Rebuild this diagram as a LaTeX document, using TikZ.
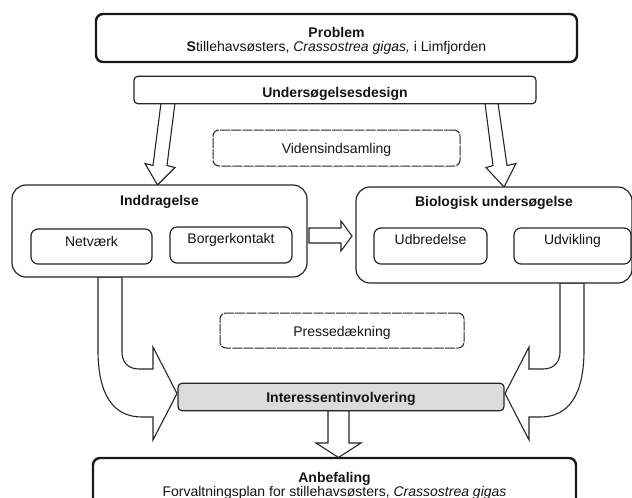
\documentclass[tikz,border=0pt]{standalone}
\usepackage{fontspec}
\setmainfont{Liberation Sans}
\begin{document}
\begin{tikzpicture}[x=1pt,y=-1pt,
  every node/.style={inner sep=0pt, text=black!92},
  txt/.style={anchor=base, font=\fontsize{14}{15}\selectfont},
  btxt/.style={anchor=base, font=\fontsize{14}{15}\selectfont\bfseries},
  thickbox/.style={draw=black!90, line width=2.4pt, rounded corners=7pt, fill=white},
  bigbox/.style={draw=black!85, line width=1.2pt, rounded corners=14pt, fill=white},
  smallbox/.style={draw=black!85, line width=1.2pt, rounded corners=7pt, fill=white},
  flatbox/.style={draw=black!85, line width=1.2pt, rounded corners=4pt, fill=white},
  dashbox/.style={draw=black!85, line width=1pt, rounded corners=6pt, dash pattern=on 10pt off 1.2pt},
  blockarrow/.style={draw=black!85, line width=1.1pt, fill=white, line join=miter},
]
\useasboundingbox (0,0) rectangle (632,498);

% ---------- block arrows (drawn first) ----------
% design -> inddragelse
\draw[blockarrow] (161,103) -- (175,103) -- (167,165.5) -- (175,167.5) -- (157.5,185) -- (145,163.5) -- (153,165.5) -- cycle;
% design -> biologisk
\draw[blockarrow] (485,103) -- (498,103) -- (507,165.5) -- (516,163.5) -- (504,187) -- (486,167.6) -- (493,165.5) -- cycle;
% inddragelse -> biologisk
\draw[blockarrow] (309,228) -- (341,228) -- (341,221) -- (352,236) -- (341,251) -- (341,243) -- (309,243) -- cycle;
% inddragelse -> interessent (curved)
\draw[blockarrow] (98,277) -- (98,350) .. controls (98,396) and (114,417) .. (142,417) -- (153,417) -- (153,440) -- (177,393.5) -- (153,347) -- (153,369) -- (139,369) .. controls (128,369) and (122,362) .. (122,352) -- (122,277) -- cycle;
% biologisk -> interessent (curved)
\draw[blockarrow] (584,283) -- (584,350) .. controls (584,396) and (568,417) .. (540,417) -- (529,417) -- (529,440) -- (505,393.5) -- (529,347) -- (529,369) -- (543,369) .. controls (554,369) and (560,362) .. (560,352) -- (560,283) -- cycle;
% interessent -> anbefaling
\draw[blockarrow] (328,410.5) -- (349,410.5) -- (349,443) -- (361,443) -- (338.5,457.5) -- (316,443) -- (328,443) -- cycle;

% ---------- boxes ----------
\node[thickbox, minimum width=481pt, minimum height=48pt] (problem) at (336.5,38) {};
\node[btxt] (problemt) at (336.5,37) {Problem};
\node[txt] (problems) at (336.5,51) {{\bfseries S}tillehavsøsters, \textit{Crassostrea gigas,} i Limfjorden};

\node[flatbox, minimum width=402pt, minimum height=27.5pt] (design) at (335,90) {};
\node[btxt] (designt) at (335,97) {Undersøgelsesdesign};

\node[dashbox, minimum width=247pt, minimum height=36pt] (viden) at (336.5,148) {};
\node[txt] (videnT) at (336.5,153) {Vidensindsamling};

\node[bigbox, minimum width=295pt, minimum height=92pt] (inddr) at (159.5,231) {};
\node[btxt] (inddrt) at (159.5,205) {Inddragelse};
\node[smallbox, minimum width=121pt, minimum height=35pt] (netv) at (91.5,246.5) {};
\node[txt] (netvt) at (91.5,246) {Netværk};
\node[smallbox, minimum width=122pt, minimum height=36pt] (borger) at (231,245) {};
\node[txt] (borgert) at (231,243) {Borgerkontakt};

\node[bigbox, minimum width=276pt, minimum height=96pt] (bio) at (494,235) {};
\node[btxt] (biot) at (494,206) {Biologisk undersøgelse};
\node[smallbox, minimum width=113pt, minimum height=36pt] (udbr) at (430.5,246) {};
\node[txt] (udbrt) at (430.5,244) {Udbredelse};
\node[smallbox, minimum width=117pt, minimum height=36pt] (udvik) at (572.5,246) {};
\node[txt] (udvikt) at (572.5,244) {Udvikling};

\node[dashbox, minimum width=244pt, minimum height=35pt] (presse) at (342,330.5) {};
\node[txt] (presset) at (342,336) {Pressedækning};

\node[flatbox, fill=black!14, minimum width=326pt, minimum height=27.5pt] (inter) at (341,397) {};
\node[btxt] (intert) at (341,402) {Interessentinvolvering};

\node[thickbox, minimum width=483pt, minimum height=57pt] (anbef) at (334.5,486.5) {};
\node[btxt] (anbeft) at (334.5,482) {Anbefaling};
\node[txt] (anbefs) at (334.5,496) {Forvaltningsplan for stillehavsøsters, \textit{Crassostrea gigas}};
\end{tikzpicture}
\end{document}
